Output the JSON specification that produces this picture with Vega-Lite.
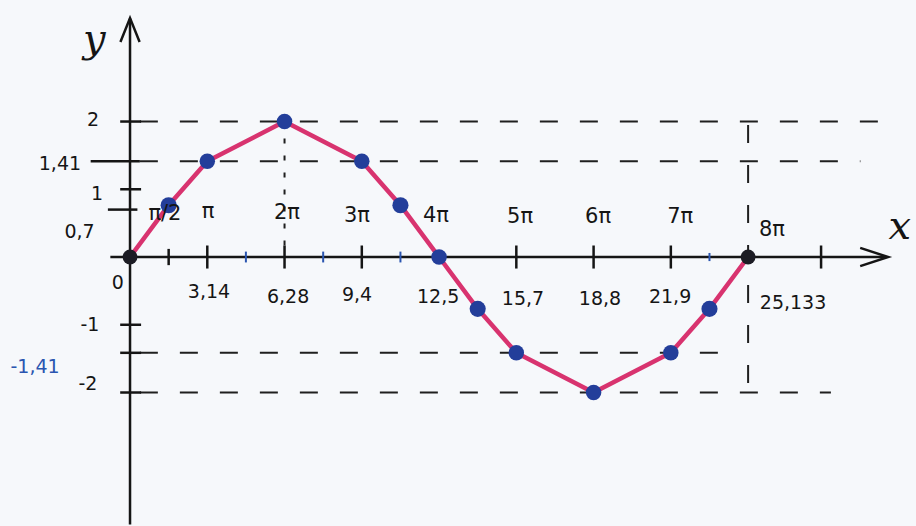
{
  "$schema": "https://vega.github.io/schema/vega-lite/v6.json",
  "width": 916,
  "height": 526,
  "autosize": {"type": "fit", "contains": "padding"},
  "padding": 0,
  "background": "#f6f8fb",
  "config": {"view": {"stroke": null}, "axis": {"disable": true}},
  "datasets": {
    "curve": [
      {"x": 0, "y": 0, "kind": "end"},
      {"x": 1.571, "y": 0.765, "kind": "minor"},
      {"x": 3.142, "y": 1.414, "kind": "major"},
      {"x": 6.283, "y": 2, "kind": "major"},
      {"x": 9.425, "y": 1.414, "kind": "major"},
      {"x": 10.996, "y": 0.765, "kind": "minor"},
      {"x": 12.566, "y": 0, "kind": "major"},
      {"x": 14.137, "y": -0.765, "kind": "minor"},
      {"x": 15.708, "y": -1.414, "kind": "major"},
      {"x": 18.85, "y": -2, "kind": "major"},
      {"x": 21.991, "y": -1.414, "kind": "major"},
      {"x": 23.562, "y": -0.765, "kind": "minor"},
      {"x": 25.133, "y": 0, "kind": "end"}
    ],
    "guides": [
      {"x1": 0.4, "x2": 31.3, "y1": 2, "y2": 2},
      {"x1": 0.4, "x2": 29.7, "y1": 1.414, "y2": 1.414},
      {"x1": 0.4, "x2": 24.2, "y1": -1.414, "y2": -1.414},
      {"x1": 0.4, "x2": 28.5, "y1": -2, "y2": -2},
      {"x1": 25.133, "x2": 25.133, "y1": 1.95, "y2": -2.16}
    ],
    "dotted": [
      {"x1": 6.283, "x2": 6.283, "y1": 2, "y2": 0}
    ],
    "axes": [
      {"x1": 0, "x2": 0, "y1": -3.95, "y2": 3.52},
      {"x1": -0.8, "x2": 30.7, "y1": 0, "y2": 0}
    ],
    "ticks": [
      {"x1": 1.571, "x2": 1.571, "y1": -0.12, "y2": 0.12},
      {"x1": 3.142, "x2": 3.142, "y1": -0.17, "y2": 0.17},
      {"x1": 6.283, "x2": 6.283, "y1": -0.17, "y2": 0.17},
      {"x1": 9.425, "x2": 9.425, "y1": -0.17, "y2": 0.17},
      {"x1": 15.708, "x2": 15.708, "y1": -0.17, "y2": 0.17},
      {"x1": 18.85, "x2": 18.85, "y1": -0.17, "y2": 0.17},
      {"x1": 21.991, "x2": 21.991, "y1": -0.17, "y2": 0.17},
      {"x1": 28.1, "x2": 28.1, "y1": -0.17, "y2": 0.17},
      {"x1": -0.4, "x2": 0.45, "y1": 2, "y2": 2},
      {"x1": -1.6, "x2": 0.4, "y1": 1.414, "y2": 1.414},
      {"x1": -0.4, "x2": 0.45, "y1": 1, "y2": 1},
      {"x1": -0.9, "x2": 0.3, "y1": 0.7, "y2": 0.7},
      {"x1": -0.4, "x2": 0.45, "y1": -1, "y2": -1},
      {"x1": -0.4, "x2": 0.45, "y1": -1.414, "y2": -1.414},
      {"x1": -0.4, "x2": 0.45, "y1": -2, "y2": -2}
    ],
    "blueTicks": [
      {"x1": 4.712, "x2": 4.712, "y1": -0.08, "y2": 0.08},
      {"x1": 7.854, "x2": 7.854, "y1": -0.08, "y2": 0.08},
      {"x1": 10.996, "x2": 10.996, "y1": -0.08, "y2": 0.08},
      {"x1": 23.562, "x2": 23.562, "y1": -0.06, "y2": 0.06}
    ],
    "piLabels": [
      {"x": 1.42, "y": 0.64, "t": "π/2"},
      {"x": 3.17, "y": 0.66, "t": "π"},
      {"x": 6.38, "y": 0.65, "t": "2π"},
      {"x": 9.23, "y": 0.6, "t": "3π"},
      {"x": 12.44, "y": 0.6, "t": "4π"},
      {"x": 15.86, "y": 0.59, "t": "5π"},
      {"x": 19.03, "y": 0.59, "t": "6π"},
      {"x": 22.37, "y": 0.59, "t": "7π"},
      {"x": 26.1, "y": 0.4, "t": "8π"}
    ],
    "labels": [
      {"x": 3.21, "y": -0.52, "t": "3,14"},
      {"x": 6.43, "y": -0.59, "t": "6,28"},
      {"x": 9.23, "y": -0.56, "t": "9,4"},
      {"x": 12.53, "y": -0.59, "t": "12,5"},
      {"x": 15.98, "y": -0.62, "t": "15,7"},
      {"x": 19.11, "y": -0.62, "t": "18,8"},
      {"x": 21.96, "y": -0.59, "t": "21,9"},
      {"x": 26.96, "y": -0.68, "t": "25,133"},
      {"x": -1.5, "y": 2.02, "t": "2"},
      {"x": -2.85, "y": 1.38, "t": "1,41"},
      {"x": -1.34, "y": 0.93, "t": "1"},
      {"x": -2.05, "y": 0.37, "t": "0,7"},
      {"x": -1.63, "y": -1.0, "t": "-1"},
      {"x": -1.71, "y": -1.88, "t": "-2"},
      {"x": -0.5, "y": -0.38, "t": "0"}
    ],
    "blueLabels": [
      {"x": -3.86, "y": -1.62, "t": "-1,41"}
    ],
    "axisNames": [
      {"x": -1.45, "y": 3.2, "t": "y"},
      {"x": 31.3, "y": 0.45, "t": "x"}
    ],
    "arrowUp": [{"x": 0, "y": 3.35}],
    "arrowRight": [{"x": 30.26, "y": 0}]
  },
  "encoding": {
    "x": {"field": "x1", "type": "quantitative", "scale": {"domain": [-5.287, 31.96], "nice": false, "zero": false}},
    "y": {"field": "y1", "type": "quantitative", "scale": {"domain": [-3.941, 3.794], "nice": false, "zero": false}}
  },
  "layer": [
    {
      "data": {"name": "guides"},
      "mark": {"type": "rule", "color": "#1f1f1f", "strokeWidth": 2, "strokeDash": [18, 22]},
      "encoding": {"x2": {"field": "x2"}, "y2": {"field": "y2"}}
    },
    {
      "data": {"name": "dotted"},
      "mark": {"type": "rule", "color": "#1f1f1f", "strokeWidth": 2, "strokeDash": [5, 12]},
      "encoding": {"x2": {"field": "x2"}, "y2": {"field": "y2"}}
    },
    {
      "data": {"name": "axes"},
      "mark": {"type": "rule", "color": "#151515", "strokeWidth": 2.5},
      "encoding": {"x2": {"field": "x2"}, "y2": {"field": "y2"}}
    },
    {
      "data": {"name": "ticks"},
      "mark": {"type": "rule", "color": "#151515", "strokeWidth": 2.5},
      "encoding": {"x2": {"field": "x2"}, "y2": {"field": "y2"}}
    },
    {
      "data": {"name": "blueTicks"},
      "mark": {"type": "rule", "color": "#2a55b0", "strokeWidth": 2},
      "encoding": {"x2": {"field": "x2"}, "y2": {"field": "y2"}}
    },
    {
      "data": {"name": "arrowUp"},
      "mark": {"type": "point", "shape": "M-0.8,1L0,-1L0.8,1", "filled": false, "opacity": 1, "size": 576, "stroke": "#151515", "strokeWidth": 2.5},
      "encoding": {"x": {"field": "x", "type": "quantitative"}, "y": {"field": "y", "type": "quantitative"}}
    },
    {
      "data": {"name": "arrowRight"},
      "mark": {"type": "point", "shape": "M-1,-0.65L1,0L-1,0.65", "filled": false, "opacity": 1, "size": 784, "stroke": "#151515", "strokeWidth": 2.5},
      "encoding": {"x": {"field": "x", "type": "quantitative"}, "y": {"field": "y", "type": "quantitative"}}
    },
    {
      "data": {"name": "curve"},
      "mark": {"type": "line", "color": "#d8336f", "strokeWidth": 4.5, "strokeCap": "round", "strokeJoin": "round"},
      "encoding": {"x": {"field": "x", "type": "quantitative"}, "y": {"field": "y", "type": "quantitative"}, "order": {"field": "x", "type": "quantitative"}}
    },
    {
      "data": {"name": "curve"},
      "mark": {"type": "point", "filled": true, "opacity": 1},
      "encoding": {
        "x": {"field": "x", "type": "quantitative"},
        "y": {"field": "y", "type": "quantitative"},
        "size": {"field": "kind", "type": "nominal", "scale": {"domain": ["end", "major", "minor"], "range": [220, 260, 90]}, "legend": null},
        "color": {"field": "kind", "type": "nominal", "scale": {"domain": ["end", "major", "minor"], "range": ["#1c1c24", "#233e9a", "#233e9a"]}, "legend": null}
      }
    },
    {
      "data": {"name": "piLabels"},
      "mark": {"type": "text", "font": "DejaVu Sans", "fontSize": 21, "color": "#151515", "align": "center", "baseline": "middle"},
      "encoding": {"x": {"field": "x", "type": "quantitative"}, "y": {"field": "y", "type": "quantitative"}, "text": {"field": "t"}}
    },
    {
      "data": {"name": "labels"},
      "mark": {"type": "text", "font": "DejaVu Sans", "fontSize": 19, "color": "#151515", "align": "center", "baseline": "middle"},
      "encoding": {"x": {"field": "x", "type": "quantitative"}, "y": {"field": "y", "type": "quantitative"}, "text": {"field": "t"}}
    },
    {
      "data": {"name": "blueLabels"},
      "mark": {"type": "text", "font": "DejaVu Sans", "fontSize": 19, "color": "#2a55b0", "align": "center", "baseline": "middle"},
      "encoding": {"x": {"field": "x", "type": "quantitative"}, "y": {"field": "y", "type": "quantitative"}, "text": {"field": "t"}}
    },
    {
      "data": {"name": "axisNames"},
      "mark": {"type": "text", "font": "DejaVu Serif", "fontStyle": "italic", "fontSize": 40, "color": "#151515", "align": "center", "baseline": "middle"},
      "encoding": {"x": {"field": "x", "type": "quantitative"}, "y": {"field": "y", "type": "quantitative"}, "text": {"field": "t"}}
    }
  ]
}
